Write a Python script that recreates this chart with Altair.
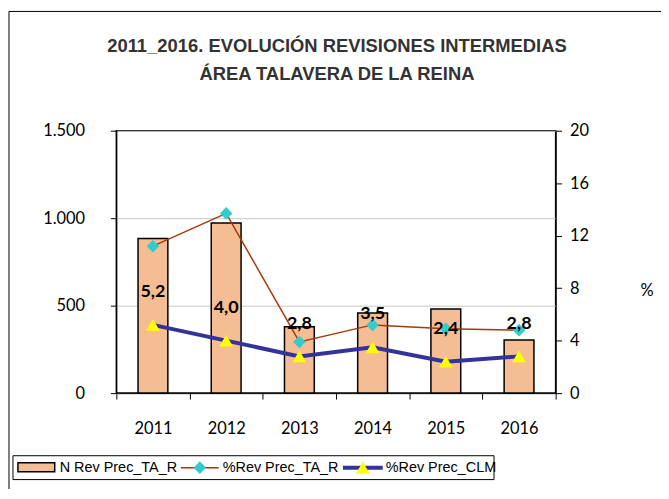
import altair as alt
import pandas as pd

years = ["2011", "2012", "2013", "2014", "2015", "2016"]
n_rev = [884, 973, 379, 458, 481, 303]
pct_ta = [11.2, 13.7, 3.9, 5.2, 4.9, 4.8]
pct_clm = [5.2, 4.0, 2.8, 3.5, 2.4, 2.8]
clm_labels = ["5,2", "4,0", "2,8", "3,5", "2,4", "2,8"]
legend_labels = ["N Rev Prec_TA_R", "%Rev Prec_TA_R", "%Rev Prec_CLM"]
title_lines = ["2011_2016. EVOLUCIÓN REVISIONES INTERMEDIAS", "ÁREA TALAVERA DE LA REINA"]

df = pd.DataFrame({"year": years, "n": n_rev, "ta": pct_ta, "clm": pct_clm, "lab": clm_labels})
one = pd.DataFrame({"a": [0]})

BAR = "#F5BD93"
TA_LINE = "#A33A0C"
TA_PT = "#33CCCC"
CLM_LINE = "#33339A"
CLM_PT = "#FFFF00"
NUMFONT = "Lato"
SANS = "Liberation Sans"

W, H = 442, 264

xenc = alt.X("year:N", sort=years, title=None,
             scale=alt.Scale(paddingInner=0.0, paddingOuter=0.0),
             axis=alt.Axis(labelAngle=0, tickBand="extent", tickSize=6, labelPadding=22,
                           labelFont=NUMFONT, labelFontSize=16.5, labelColor="#000",
                           domainColor="#000", tickColor="#000", grid=False))

base = alt.Chart(df).encode(x=xenc)

bars = base.mark_bar(color=BAR, stroke="#000", strokeWidth=1.5, size=30).encode(
    y=alt.Y("n:Q", title=None, scale=alt.Scale(domain=[0, 1500], nice=False),
            axis=alt.Axis(values=[0, 500, 1000, 1500], format=",.0f", orient="left",
                          labelExpr="replace(datum.label, ',', '.')",
                          tickSize=6, labelPadding=26, labelFont=NUMFONT, labelFontSize=16.5,
                          labelColor="#000", domainColor="#000", tickColor="#000",
                          grid=True, gridColor="#C8C8C8", gridWidth=1))
)

yright = alt.Y("ta:Q", title=None, scale=alt.Scale(domain=[0, 20], nice=False),
               axis=alt.Axis(values=[0, 4, 8, 12, 16, 20], orient="right", tickSize=6,
                             labelPadding=8, labelFont=NUMFONT, labelFontSize=16.5,
                             labelColor="#000", domainColor="#000", tickColor="#000", grid=False))

line_ta = base.mark_line(color=TA_LINE, strokeWidth=1.5).encode(y=yright)
pts_ta = base.mark_point(shape="diamond", filled=True, color=TA_PT, opacity=1, size=160).encode(y="ta:Q")
line_clm = base.mark_line(color=CLM_LINE, strokeWidth=4).encode(y="clm:Q")
pts_clm = base.mark_point(shape="triangle-up", filled=True, color=CLM_PT, opacity=1, size=190).encode(y="clm:Q")
labels = base.mark_text(font=NUMFONT, fontSize=18, fontWeight="bold", color="#000", dy=-33).encode(
    y="clm:Q", text="lab:N")

right = alt.layer(line_ta, line_clm, pts_ta, pts_clm, labels)

main = alt.layer(bars, right).resolve_scale(y="independent")

# decorations: outer frame, title, "%" title, legend
oc = alt.Chart(one)
frame_top = oc.mark_rule(color="#000", strokeWidth=1).encode(
    x=alt.value(-108), x2=alt.value(W + 200), y=alt.value(-120))
frame_left = oc.mark_rule(color="#000", strokeWidth=1).encode(
    x=alt.value(-108), y=alt.value(-120), y2=alt.value(H + 200))
title1 = oc.mark_text(font=SANS, fontSize=18.5, fontWeight="bold", color="#333333",
                      align="center", baseline="middle").encode(
    x=alt.value(W / 2 + 1), y=alt.value(-85), text=alt.value(title_lines[0]))
title2 = oc.mark_text(font=SANS, fontSize=18.5, fontWeight="bold", color="#333333",
                      align="center", baseline="middle").encode(
    x=alt.value(W / 2 + 1), y=alt.value(-57), text=alt.value(title_lines[1]))
pct = oc.mark_text(font=NUMFONT, fontSize=16.5, color="#000", align="center", baseline="middle").encode(
    x=alt.value(534), y=alt.value(161), text=alt.value("%"))

LY = 339
leg_box = oc.mark_rect(fill="#fff", stroke="#000", strokeWidth=1).encode(
    x=alt.value(-104), x2=alt.value(380), y=alt.value(327), y2=alt.value(351))
leg_bar = oc.mark_rect(fill=BAR, stroke="#000", strokeWidth=1.5).encode(
    x=alt.value(-99), x2=alt.value(-62), y=alt.value(LY - 5), y2=alt.value(LY + 4))
leg_t1 = oc.mark_text(font=SANS, fontSize=14.5, color="#000", align="left", baseline="middle").encode(
    x=alt.value(-57), y=alt.value(LY), text=alt.value(legend_labels[0]))
leg_l2 = oc.mark_rule(color=TA_LINE, strokeWidth=1.5).encode(
    x=alt.value(65), x2=alt.value(103), y=alt.value(LY))
leg_p2 = oc.mark_point(shape="diamond", filled=True, color=TA_PT, opacity=1, size=160).encode(
    x=alt.value(84), y=alt.value(LY))
leg_t2 = oc.mark_text(font=SANS, fontSize=14.5, color="#000", align="left", baseline="middle").encode(
    x=alt.value(107), y=alt.value(LY), text=alt.value(legend_labels[1]))
leg_l3 = oc.mark_rule(color=CLM_LINE, strokeWidth=4).encode(
    x=alt.value(228), x2=alt.value(268), y=alt.value(LY))
leg_p3 = oc.mark_point(shape="triangle-up", filled=True, color=CLM_PT, opacity=1, size=190).encode(
    x=alt.value(248), y=alt.value(LY))
leg_t3 = oc.mark_text(font=SANS, fontSize=14.5, color="#000", align="left", baseline="middle").encode(
    x=alt.value(271), y=alt.value(LY), text=alt.value(legend_labels[2]))

chart = alt.layer(
    main, frame_top, frame_left, title1, title2, pct,
    leg_box, leg_bar, leg_t1, leg_l2, leg_p2, leg_t2, leg_l3, leg_p3, leg_t3
).properties(
    width=W, height=H,
    padding={"left": 109, "top": 122, "right": 106, "bottom": 95},
    autosize=alt.AutoSizeParams(type="none"),
).configure_view(stroke="#000", strokeWidth=1.5)

chart.save("out.html", embed_options={"renderer": "svg", "actions": False})
